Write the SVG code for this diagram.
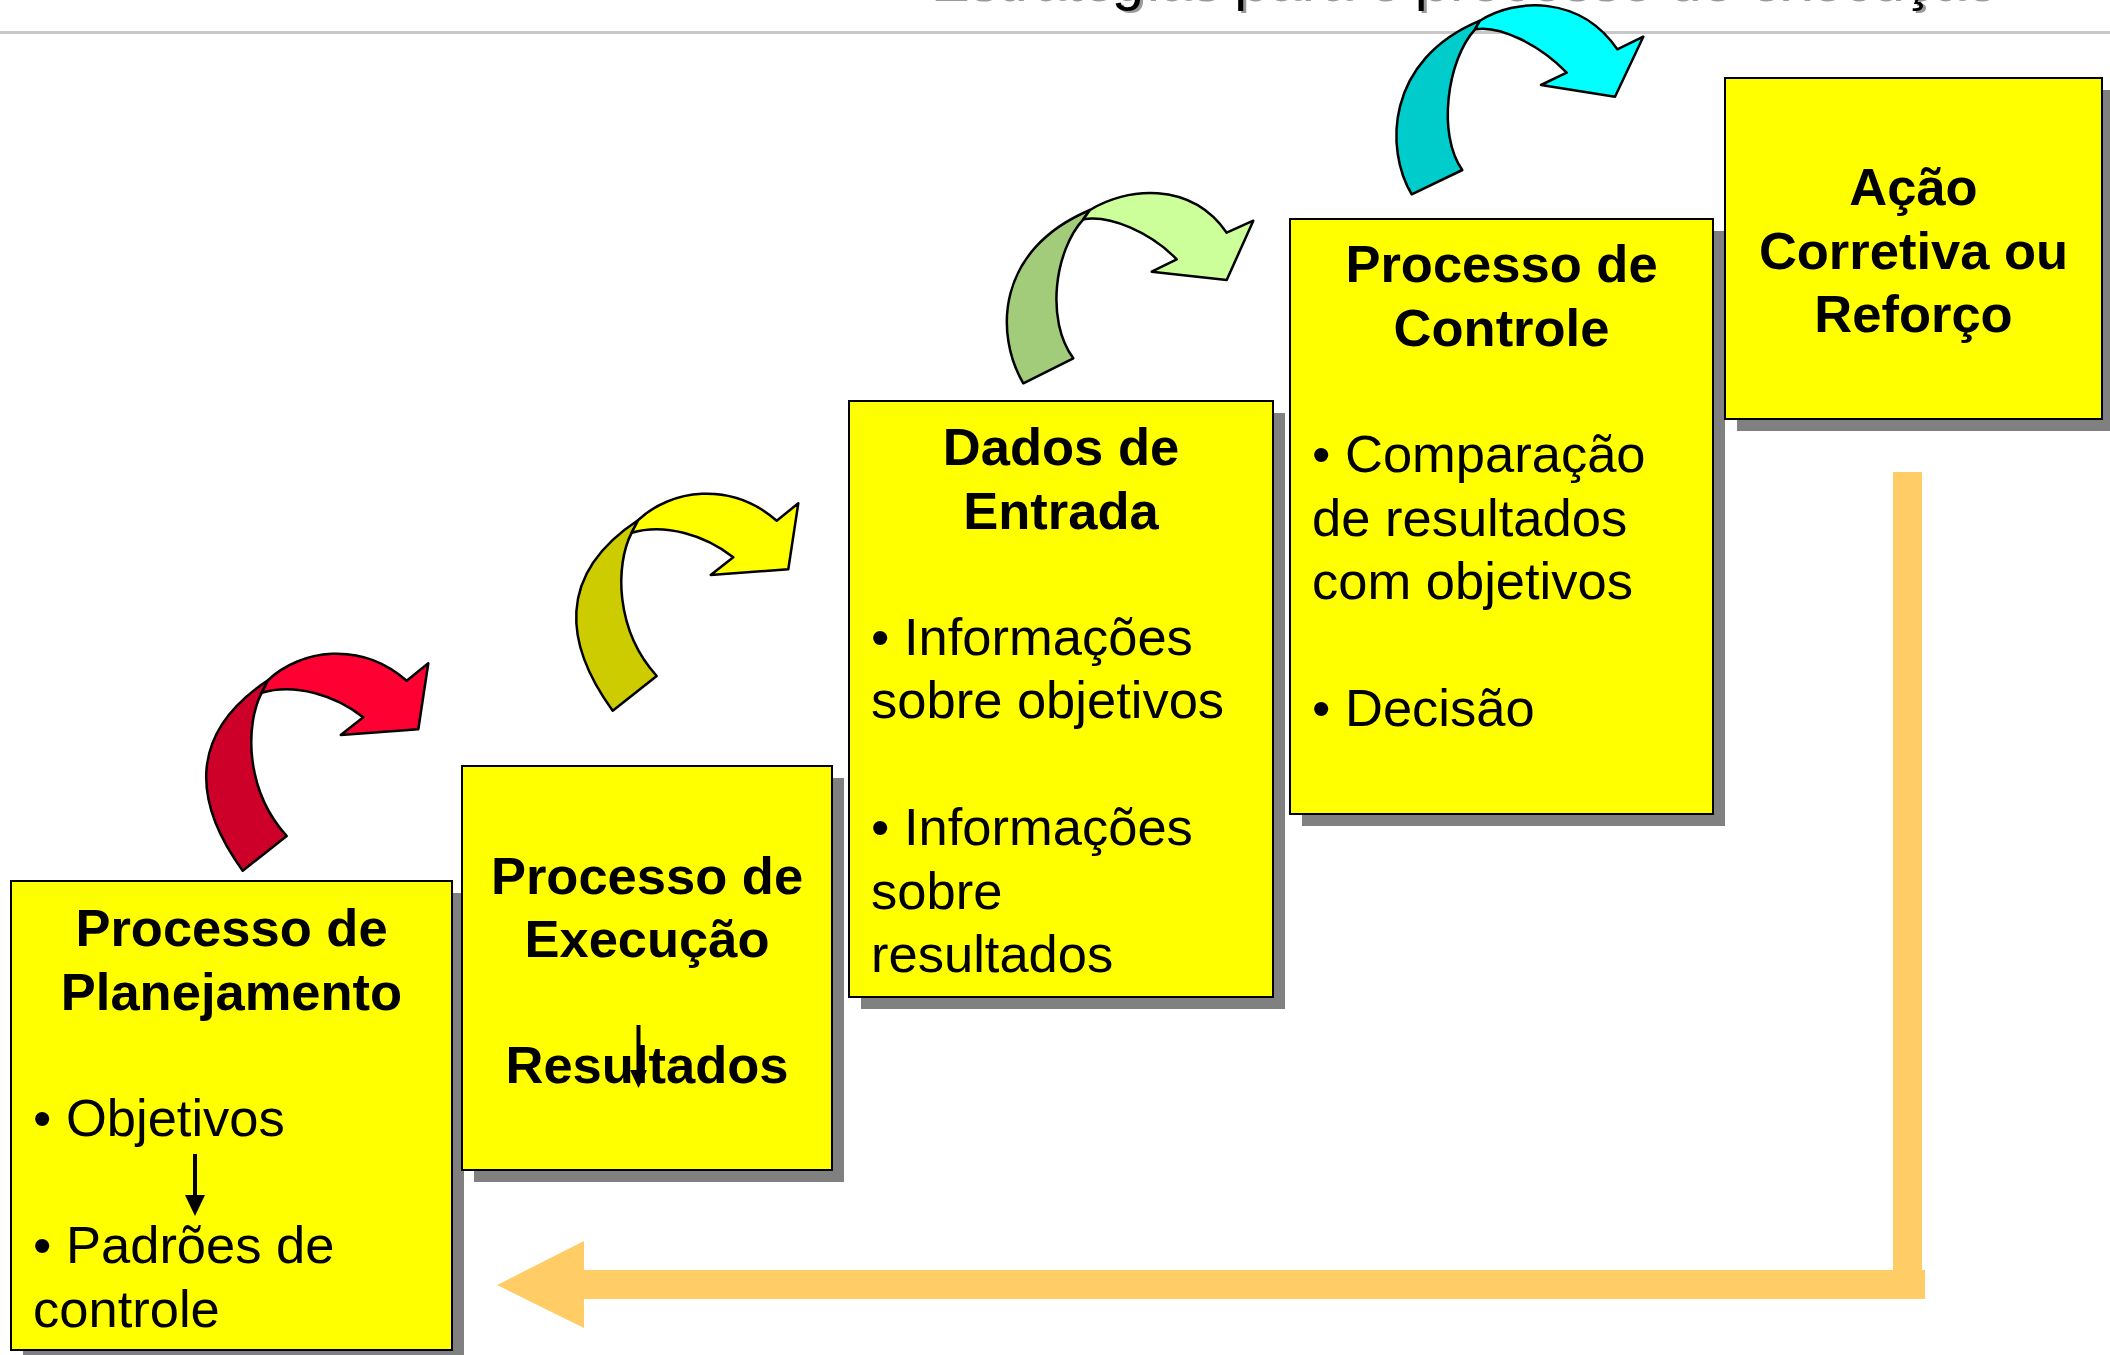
<svg xmlns="http://www.w3.org/2000/svg" width="2110" height="1355" viewBox="0 0 2110 1355">
<style>
.shadow{fill:#808080}
.box{fill:#FFFF00;stroke:#000;stroke-width:2}
.t{font-family:"Liberation Sans",Arial,sans-serif;font-size:52.5px;fill:#000}
.b{font-weight:bold;text-anchor:middle}
.ar{stroke:#000;stroke-width:2.5;stroke-linejoin:round}
.orange{fill:#FFCC66}
</style>
<rect width="2110" height="1355" fill="#fff"/>
<g id="title">
<text x="931" y="1" class="t" style="font-size:58px;fill:#9a9a9a">Estratégias para o processo de execução</text>
<text x="928" y="-1" class="t" style="font-size:58px">Estratégias para o processo de execução</text>
<rect x="0" y="31" width="2110" height="3" fill="#c8c8c8"/>
</g>
<g id="node-planejamento">
<rect class="shadow" x="23" y="893" width="441" height="469"/>
<rect class="box" x="11" y="881" width="441" height="469"/>
<text class="t b" x="231.5" y="946">Processo de</text>
<text class="t b" x="231.5" y="1009.5">Planejamento</text>
<text class="t" x="33" y="1136">• Objetivos</text>
<rect x="193" y="1154" width="4" height="44" fill="#000"/>
<polygon points="185,1195 205,1195 195,1216" fill="#000"/>
<text class="t" x="33" y="1263">• Padrões de</text>
<text class="t" x="33" y="1326.5">controle</text>
</g>
<g id="node-execucao">
<rect class="shadow" x="474" y="778" width="370" height="404"/>
<rect class="box" x="462" y="766" width="370" height="404"/>
<text class="t b" x="647" y="894">Processo de</text>
<text class="t b" x="647" y="957">Execução</text>
<text class="t b" x="647" y="1083">Resultados</text>
<rect x="636.5" y="1025" width="4" height="47" fill="#000"/>
<polygon points="630,1070 647,1070 638.5,1088" fill="#000"/>
</g>
<g id="node-dados">
<rect class="shadow" x="861" y="413" width="424" height="596"/>
<rect class="box" x="849" y="401" width="424" height="596"/>
<text class="t b" x="1061" y="465">Dados de</text>
<text class="t b" x="1061" y="528.5">Entrada</text>
<text class="t" x="871" y="655">• Informações</text>
<text class="t" x="871" y="718">sobre objetivos</text>
<text class="t" x="871" y="845">• Informações</text>
<text class="t" x="871" y="908.5">sobre</text>
<text class="t" x="871" y="972">resultados</text>
</g>
<g id="node-controle">
<rect class="shadow" x="1302" y="231" width="423" height="595"/>
<rect class="box" x="1290" y="219" width="423" height="595"/>
<text class="t b" x="1501.5" y="282">Processo de</text>
<text class="t b" x="1501.5" y="345.5">Controle</text>
<text class="t" x="1312" y="472">• Comparação</text>
<text class="t" x="1312" y="535.5">de resultados</text>
<text class="t" x="1312" y="599">com objetivos</text>
<text class="t" x="1312" y="726">• Decisão</text>
</g>
<g id="node-acao">
<rect class="shadow" x="1737" y="90" width="377" height="341"/>
<rect class="box" x="1725" y="78" width="377" height="341"/>
<text class="t b" x="1913.5" y="205">Ação</text>
<text class="t b" x="1913.5" y="268.5">Corretiva ou</text>
<text class="t b" x="1913.5" y="332">Reforço</text>
</g>
<g id="connectors">
<g id="arrow-red">
<path class="ar" fill="#CC0029" d="M242.7 870.7 C195 805 185 735 268.3 680 L261.7 692.7 C245 725 245 790 286.7 836 Z"/>
<path class="ar" fill="#FF0033" d="M268.3 680 C300 650 360 640 406.7 680.7 L428.3 663.3 L418.3 729.3 L340.7 735 L363.3 717.3 C335 695 295 683 261.7 692.7 Z"/>
</g>
<g id="arrow-yellow" transform="translate(370,-160)">
<path class="ar" fill="#CCCC00" d="M242.7 870.7 C195 805 185 735 268.3 680 L261.7 692.7 C245 725 245 790 286.7 836 Z"/>
<path class="ar" fill="#FFFF00" d="M268.3 680 C300 650 360 640 406.7 680.7 L428.3 663.3 L418.3 729.3 L340.7 735 L363.3 717.3 C335 695 295 683 261.7 692.7 Z"/>
</g>
<g id="arrow-green">
<path class="ar" fill="#A3CC7A" d="M1023.3 383.3 C995 335 995 250 1090 210 L1083.3 219.3 C1055 250 1045 320 1073.3 358.3 Z"/>
<path class="ar" fill="#CCFF99" d="M1090 210 C1125 188 1190 180 1226.7 232.7 L1253.3 220.7 L1226.7 280 L1151.7 271.7 L1176.7 259.3 C1150 232 1110 215 1083.3 219.3 Z"/>
</g>
<g id="arrow-cyan">
<path class="ar" fill="#00CCCC" d="M1411.7 194.3 C1385 150 1385 60 1480 20.7 L1475 29.3 C1447 60 1437 135 1462.3 170 Z"/>
<path class="ar" fill="#00FFFF" d="M1480 20.7 C1515 -2 1580 -5 1617.3 49.3 L1643.3 36.7 L1615 96.7 L1541 85 L1566.7 72.7 C1540 45 1500 25 1475 29.3 Z"/>
</g>
<g id="feedback-arrow" class="orange">
<rect x="1893" y="472" width="29" height="812"/>
<polygon points="1925,1270 584,1270 584,1241 497,1285 584,1328 584,1299 1925,1299"/>
</g>
</g>
</svg>
